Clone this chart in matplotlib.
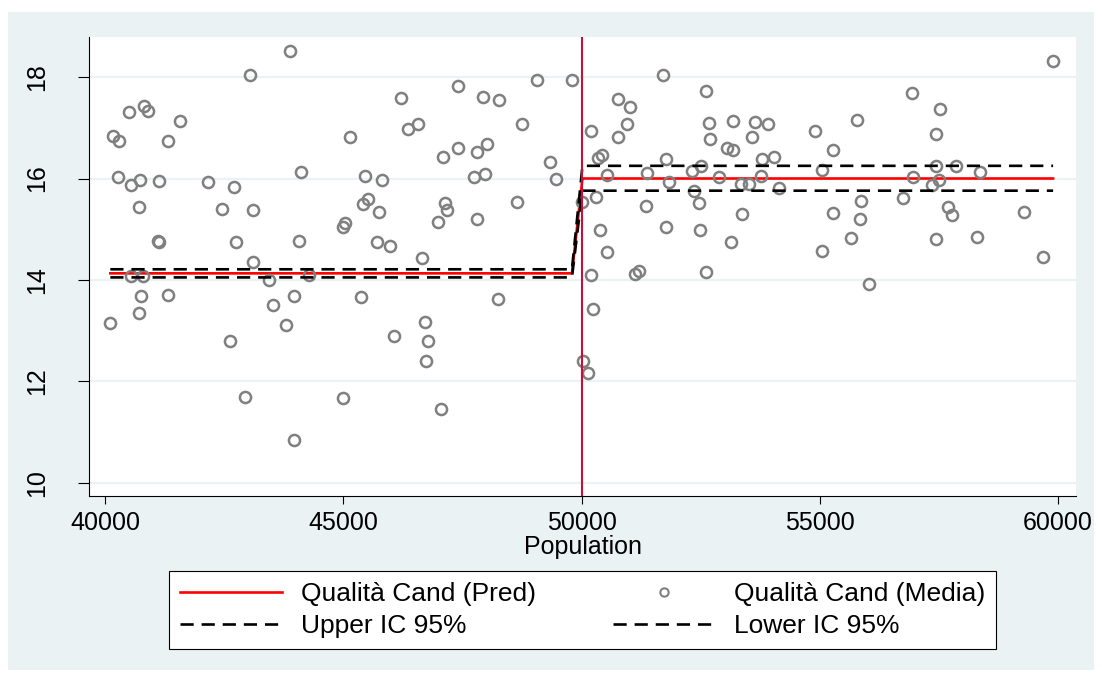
import numpy as np
import matplotlib
matplotlib.use("Agg")
from matplotlib import pyplot as plt
from matplotlib.lines import Line2D
from matplotlib.patches import Rectangle

# scatter: population and mean candidate quality
population = [
    43877, 43043, 40496, 40818, 40888, 41560, 40166, 40292, 41315, 44101,
    40258, 40531, 40727, 41126, 42161, 42694, 40713, 42455, 43100, 41111,
    41126, 42743, 44072, 43100, 40544, 40796, 43436, 44269, 40741, 41315,
    43961, 40712, 40103, 43526, 43793, 42623, 42925, 43967, 44983,
    49059, 49799, 46208, 47411, 47937, 48259, 46361, 46558, 48755, 45137,
    47411, 47090, 47797, 48007, 49343, 49456, 45458, 45815, 47741, 47972,
    45521, 45403, 45746, 47138, 47174, 46991, 47797, 48637, 45032, 44983,
    45697, 45977, 46642, 45374, 48251, 46712, 46782, 46061, 46740, 47048,
    50020, 51716, 52605, 50771, 51017, 50947, 50198, 50771, 52676, 53187,
    53642, 53915, 52703, 53579, 54908, 53061, 53187, 50435, 50351, 51767,
    53795, 54041, 52501, 52325, 51380, 50540, 51842, 52880, 53348, 53522,
    53775, 52367, 54146, 55048, 50304, 52466, 51346, 53362, 50387, 51773,
    52487, 53138, 50527, 51122, 51206, 52613, 50198, 50246, 50036, 50141,
    55055, 55274, 55287, 59906, 56932, 57526, 55790, 57442, 57442, 57862,
    58366, 56953, 57512, 57372, 56743, 55868, 55854, 57700, 57785, 59297,
    55658, 57456, 58310, 59696, 56030,
]
quality = [
    18.51, 18.05, 17.31, 17.43, 17.33, 17.14, 16.84, 16.74, 16.74, 16.13,
    16.02, 15.87, 15.98, 15.95, 15.93, 15.83, 15.43, 15.40, 15.37, 14.77,
    14.74, 14.75, 14.77, 14.36, 14.07, 14.08, 14.00, 14.10, 13.69, 13.70,
    13.68, 13.34, 13.16, 13.51, 13.12, 12.80, 11.69, 10.85, 11.68,
    17.95, 17.94, 17.58, 17.82, 17.60, 17.54, 16.98, 17.08, 17.08, 16.82,
    16.60, 16.42, 16.52, 16.68, 16.33, 16.00, 16.05, 15.97, 16.03, 16.09,
    15.60, 15.50, 15.33, 15.52, 15.38, 15.14, 15.20, 15.54, 15.12, 15.04,
    14.75, 14.66, 14.43, 13.67, 13.63, 13.17, 12.79, 12.90, 12.40, 11.46,
    15.54, 18.05, 17.73, 17.56, 17.41, 17.07, 16.94, 16.81, 17.09, 17.13,
    17.11, 17.07, 16.78, 16.81, 16.93, 16.60, 16.56, 16.46, 16.40, 16.38,
    16.38, 16.42, 16.25, 16.15, 16.11, 16.06, 15.93, 16.02, 15.89, 15.89,
    16.05, 15.76, 15.81, 16.16, 15.63, 15.51, 15.46, 15.30, 14.99, 15.04,
    14.98, 14.74, 14.55, 14.11, 14.18, 14.16, 14.09, 13.43, 12.40, 12.16,
    14.57, 15.31, 16.56, 18.32, 17.69, 17.38, 17.15, 16.88, 16.25, 16.25,
    16.13, 16.02, 15.97, 15.87, 15.62, 15.56, 15.20, 15.44, 15.29, 15.34,
    14.83, 14.81, 14.84, 14.46, 13.92,
]

# fitted lines (first/last point each side of the cutoff)
fit_x = [40103, 49799, 50020, 59906]
pred = [14.13, 14.13, 16.00, 16.00]
upper = [14.21, 14.21, 16.25, 16.25]
lower = [14.05, 14.05, 15.76, 15.76]
cutoff = 50000

x_ticks = [40000, 45000, 50000, 55000, 60000]
y_ticks = [10, 12, 14, 16, 18]

BG = '#EAF2F3'
W, H = 1102, 673
DASH = (5, 3)

plt.rcParams['font.family'] = ['Liberation Sans', 'DejaVu Sans']

fig = plt.figure(figsize=(W / 100, H / 100), dpi=100)
fig.patch.set_facecolor('white')
fig.patches.append(Rectangle((8 / W, 1 - 670 / H), 1086 / W, 658 / H,
                             transform=fig.transFigure, facecolor=BG,
                             edgecolor='none', zorder=-10))

ax = fig.add_axes([89 / W, 1 - 496 / H, 987 / W, 459 / H])
ax.set_facecolor('white')

ax.plot(fit_x, pred, color='#FF0000', lw=1.9, zorder=2)
ax.plot(population, quality, linestyle='none', marker='o', markersize=8,
        markerfacecolor='none', markeredgecolor='#808080', markeredgewidth=1.8,
        zorder=3)
ax.plot(fit_x, upper, color='black', lw=1.9, dashes=DASH, zorder=4)
ax.plot(fit_x, lower, color='black', lw=1.9, dashes=DASH, zorder=4)
ax.axvline(cutoff, color='#C80F3C', lw=1.5, zorder=5)

ax.set_xlim(39655, 60387)
ax.set_ylim(9.74, 18.79)
ax.set_xticks(x_ticks)
ax.set_yticks(y_ticks)
ax.set_xticklabels([str(v) for v in x_ticks], fontsize=18)
ax.set_yticklabels([str(v) for v in y_ticks], fontsize=18, rotation=90, va='center')
ax.tick_params(axis='x', length=6, width=0.8, pad=5)
ax.tick_params(axis='y', length=8, width=0.8, pad=21)
ax.grid(axis='y', color=BG, lw=1.6)
ax.set_axisbelow(True)
for side in ['top', 'right']:
    ax.spines[side].set_visible(False)
for side in ['left', 'bottom']:
    ax.spines[side].set_linewidth(0.8)
ax.set_xlabel('Population', fontsize=18, labelpad=0)

h_pred = Line2D([], [], color='#FF0000', lw=1.9)
h_media = Line2D([], [], linestyle='none', marker='o', markersize=6, markerfacecolor='none',
                 markeredgecolor='#808080', markeredgewidth=1.5)
h_up = Line2D([], [], color='black', lw=1.9, dashes=DASH)
h_low = Line2D([], [], color='black', lw=1.9, dashes=DASH)
# matplotlib fills columns first, so order gives rows: Pred | Media, Upper | Lower
handles = [h_pred, h_up, h_media, h_low]
labels = ['Qualità Cand (Pred)', 'Upper IC 95%', 'Qualità Cand (Media)', 'Lower IC 95%']
leg = fig.legend(handles, labels, ncol=2, fontsize=19, frameon=True, fancybox=False,
                 edgecolor='black', facecolor='white', framealpha=1,
                 loc='center', bbox_to_anchor=(169 / W, 1 - 648 / H, 827 / W, 76 / H),
                 mode='expand', handlelength=3.9, handletextpad=0.7,
                 borderpad=0.4, labelspacing=0.3, borderaxespad=0)
leg.get_frame().set_linewidth(0.8)

fig.savefig('out.png', dpi=100)
